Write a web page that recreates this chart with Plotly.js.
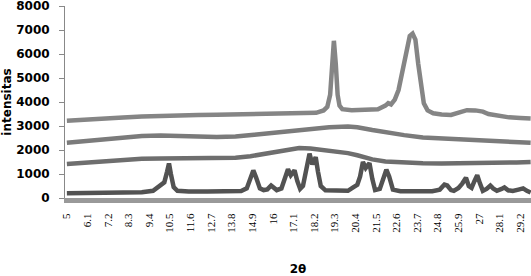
<!DOCTYPE html>
<html>
<head>
<meta charset="utf-8">
<script src="https://cdn.plot.ly/plotly-3.0.1.min.js"></script>
<style>html,body{margin:0;padding:0;background:#fff;}#chart{width:531px;height:276px;}</style>
</head>
<body>
<div id="chart"></div>
<script>
// Tick labels (2θ)
var tickLabels = [5, 6.1, 7.2, 8.3, 9.4, 10.5, 11.6, 12.7, 13.8, 14.9, 16, 17.1, 18.2, 19.3, 20.4, 21.5, 22.6, 23.7, 24.8, 25.9, 27, 28.1, 29.2];

// Series A (top)
var xTop = [5, 6, 7, 8, 9, 10, 11, 12, 13, 14, 14.8, 15.5, 16.5, 17.5, 18.3, 18.7, 18.9, 19.05, 19.15, 19.25, 19.35, 19.45, 19.55, 19.7, 20.2, 21, 21.6, 22.0, 22.15, 22.3, 22.5, 22.7, 22.9, 23.1, 23.3, 23.45, 23.6, 23.75, 23.9, 24.05, 24.25, 24.55, 25, 25.5, 26, 26.35, 26.8, 27.2, 27.5, 27.9, 28.6, 29.2, 29.75];
var yTop = [3220, 3250, 3300, 3350, 3400, 3430, 3450, 3460, 3470, 3480, 3500, 3490, 3500, 3520, 3550, 3650, 3800, 4300, 5300, 6550, 5600, 4300, 3850, 3700, 3660, 3680, 3700, 3850, 3950, 3900, 4100, 4500, 5200, 6100, 6750, 6850, 6600, 5600, 4600, 3950, 3650, 3530, 3480, 3460, 3580, 3660, 3650, 3600, 3500, 3440, 3360, 3330, 3310];

// Series B (third from bottom)
var xB = [5, 6, 7, 8, 9, 10, 11, 12, 13, 14, 15, 16, 17, 18, 19, 20, 20.5, 21.3, 22, 23, 24, 25, 26, 27, 28, 29, 29.75];
var yB = [2300, 2370, 2440, 2510, 2580, 2600, 2600, 2560, 2540, 2560, 2640, 2720, 2800, 2880, 2950, 2980, 2950, 2830, 2730, 2620, 2520, 2480, 2450, 2420, 2380, 2330, 2300];

// Series C (second from bottom)
var xC = [5, 6, 7, 8, 9, 10, 11, 12, 13, 14, 14.8, 15.5, 16.5, 17.4, 18, 18.5, 19.2, 20, 20.5, 21.3, 22, 23, 24, 25, 26, 27, 28, 29, 29.75];
var yC = [1420, 1480, 1550, 1600, 1640, 1650, 1660, 1670, 1640, 1680, 1740, 1830, 1980, 2080, 2060, 2020, 1930, 1870, 1780, 1610, 1520, 1470, 1450, 1440, 1440, 1450, 1460, 1480, 1500];

// Series D (bottom)
var xD = [5, 6, 7, 8, 9, 9.6, 9.9, 10.05, 10.2, 10.35, 10.45, 10.55, 10.7, 10.9, 11.5, 12.5, 13.5, 14.3, 14.6, 14.8, 14.95, 15.1, 15.3, 15.5, 15.7, 15.9, 16.05, 16.2, 16.45, 16.6, 16.8, 16.95, 17.15, 17.3, 17.45, 17.6, 17.8, 17.95, 18.1, 18.28, 18.4, 18.55, 18.8, 19.5, 20.0, 20.3, 20.5, 20.65, 20.8, 20.95, 21.15, 21.3, 21.45, 21.7, 21.9, 22.05, 22.2, 22.4, 22.8, 23.5, 24.5, 24.9, 25.15, 25.3, 25.5, 25.65, 25.9, 26.1, 26.3, 26.45, 26.6, 26.75, 26.9, 27.05, 27.2, 27.4, 27.6, 27.75, 27.95, 28.2, 28.35, 28.55, 28.8, 29.1, 29.35, 29.55, 29.75];
var yD = [200, 200, 210, 220, 240, 300, 450, 520, 650, 1100, 1440, 1000, 450, 300, 270, 270, 280, 290, 400, 900, 1150, 850, 400, 330, 360, 520, 450, 330, 400, 700, 1200, 950, 1150, 700, 380, 500, 1300, 1850, 1400, 1700, 1100, 500, 320, 290, 300, 450, 550, 900, 1500, 1250, 1450, 800, 330, 380, 900, 1180, 900, 350, 280, 280, 280, 350, 560, 520, 330, 300, 420, 600, 840, 500, 420, 700, 950, 600, 300, 380, 520, 400, 300, 380, 440, 320, 290, 350, 400, 300, 230];

var lw = 4.5;
var traces = [
  {x: xTop, y: yTop, mode: 'lines', line: {color: '#858585', width: lw}, name: 'A'},
  {x: xB, y: yB, mode: 'lines', line: {color: '#7b7b7b', width: lw}, name: 'B'},
  {x: xC, y: yC, mode: 'lines', line: {color: '#6e6e6e', width: lw}, name: 'C'},
  {x: xD, y: yD, mode: 'lines', line: {color: '#525252', width: lw}, name: 'D'}
];

var layout = {
  width: 531, height: 276,
  margin: {l: 65, r: 0, t: 6, b: 78, pad: 0},
  paper_bgcolor: '#ffffff', plot_bgcolor: '#ffffff',
  showlegend: false,
  xaxis: {
    range: [4.9, 29.77],
    tickmode: 'array', tickvals: tickLabels, ticktext: tickLabels.map(String),
    tickangle: -90,
    tickfont: {family: 'Liberation Serif, Times New Roman, serif', size: 11, color: '#000'},
    ticks: '', showgrid: false, zeroline: false,
    showline: true, linecolor: '#999999', linewidth: 5,
    ticklabelstandoff: 6,
    ticklabeloverflow: 'allow',
    title: {text: '2θ', font: {family: 'DejaVu Sans, sans-serif', size: 12, color: '#000', weight: 'bold'}, standoff: 34}
  },
  yaxis: {
    range: [0, 8000],
    tickvals: [0, 1000, 2000, 3000, 4000, 5000, 6000, 7000, 8000],
    tickfont: {family: 'DejaVu Sans, sans-serif', size: 12, color: '#000', weight: 'bold'},
    ticks: 'outside', ticklen: 5, tickcolor: '#888888', tickwidth: 1,
    ticklabelstandoff: 7,
    ticklabeloverflow: 'allow',
    showgrid: false, zeroline: false,
    showline: true, linecolor: '#888888', linewidth: 1,
    title: {text: 'intensitas', font: {family: 'DejaVu Sans, sans-serif', size: 12, color: '#000', weight: 'bold'}, standoff: 4}
  }
};

Plotly.newPlot('chart', traces, layout, {displayModeBar: false, staticPlot: true});
</script>
</body>
</html>
